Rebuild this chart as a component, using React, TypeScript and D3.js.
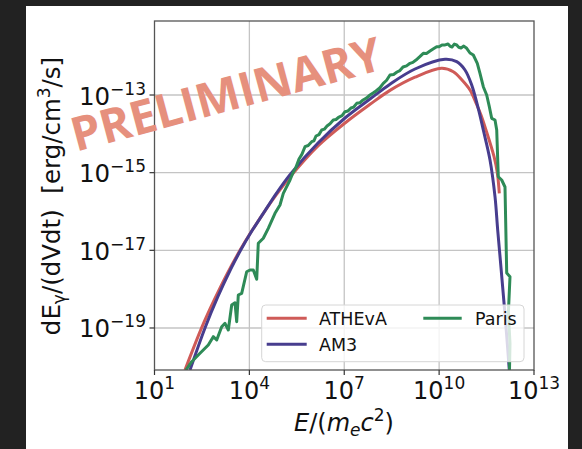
import React from "react";
import * as d3 from "d3";

// ---- data (log10 of E/(m_e c^2) and log10 of dE/(dVdt)) ----
const athevaLogE = [1.964, 2.493, 2.9, 3.3, 3.704, 3.998, 4.431, 4.842, 5.316, 6.17, 7.024, 7.814, 8.446, 9.237, 10.081, 10.448, 10.723, 10.976, 11.166, 11.324, 11.482, 11.737, 11.84, 11.903];
const athevaLogY = [-20.08, -18.99, -18.26, -17.6, -17.0, -16.6, -16.06, -15.58, -15.08, -14.31, -13.72, -13.24, -12.88, -12.54, -12.312, -12.4, -12.614, -12.871, -13.206, -13.515, -13.901, -14.589, -15.001, -15.532];

const am3LogE = [2.123, 2.597, 3.0, 3.4, 3.735, 4.02, 4.44, 4.864, 5.285, 6.17, 7.024, 7.814, 8.446, 9.237, 10.186, 10.556, 10.818, 11.03, 11.239, 11.397, 11.609, 11.767, 11.852, 11.957, 12.083, 12.219];
const am3LogY = [-20.082, -19.0, -18.2, -17.5, -16.98, -16.58, -16.05, -15.52, -15.05, -14.236, -13.592, -13.103, -12.72, -12.33, -12.081, -12.142, -12.356, -12.742, -13.35, -13.901, -14.674, -15.619, -16.477, -17.45, -18.65, -20.082];

const parisLogE = [1.996, 2.176, 2.439, 2.701, 2.859, 2.967, 3.125, 3.229, 3.334, 3.441, 3.545, 3.599, 3.65, 3.757, 3.915, 4.02, 4.124, 4.232, 4.282, 4.44, 4.598, 4.81, 4.968, 5.073, 5.285, 5.379, 5.47, 5.569, 5.66, 5.759, 5.86, 5.971, 6.04, 6.107, 6.2, 6.287, 6.37, 6.455, 6.55, 6.654, 6.74, 6.834, 6.93, 7.024, 7.12, 7.213, 7.3, 7.394, 7.49, 7.593, 7.7, 7.814, 7.91, 8.004, 8.12, 8.235, 8.34, 8.446, 8.56, 8.668, 8.76, 8.858, 8.97, 9.079, 9.17, 9.269, 9.38, 9.5, 9.6, 9.712, 9.82, 9.923, 10.0, 10.091, 10.19, 10.281, 10.34, 10.407, 10.48, 10.556, 10.62, 10.692, 10.78, 10.872, 10.976, 11.081, 11.207, 11.292, 11.397, 11.504, 11.587, 11.662, 11.767, 11.821, 11.871, 11.979, 12.083, 12.137, 12.241, 12.19, 12.241, 12.225];
const parisLogY = [-20.082, -19.868, -19.652, -19.438, -19.224, -19.309, -18.967, -18.88, -19.052, -18.408, -18.349, -18.838, -18.151, -18.107, -17.551, -17.507, -17.507, -17.746, -16.819, -16.69, -16.433, -16.047, -15.833, -15.532, -15.189, -15.001, -14.87, -14.648, -14.53, -14.331, -14.3, -14.203, -14.18, -14.056, -14.02, -13.901, -13.88, -13.798, -13.74, -13.644, -13.63, -13.567, -13.53, -13.43, -13.41, -13.335, -13.31, -13.214, -13.2, -13.129, -13.08, -13.0, -12.95, -12.897, -12.82, -12.699, -12.62, -12.485, -12.47, -12.408, -12.37, -12.279, -12.25, -12.184, -12.16, -12.099, -12.02, -11.926, -11.93, -11.867, -11.81, -11.756, -11.76, -11.712, -11.71, -11.687, -11.74, -11.764, -11.69, -11.712, -11.77, -11.79, -11.74, -11.797, -11.918, -11.97, -12.184, -12.441, -12.786, -13.0, -13.301, -13.6, -13.644, -13.901, -15.104, -15.189, -15.369, -17.584, -17.679, -18.6, -19.4, -20.082];

const xTickExps = [1, 4, 7, 10, 13];
const yTickExps = [-13, -15, -17, -19];
const yTickLabels = ["\u221213", "\u221215", "\u221217", "\u221219"];

const seriesNames = ["ATHEvA", "AM3", "Paris"];
const seriesColors = ["#cf5b58", "#473d8e", "#2e8b57"];

const W = 582;
const H = 449;
const left = 154.5, right = 534, top = 21, bottom = 370;

export default function App() {
  React.useEffect(() => {
    document.body.style.margin = "0";
    document.body.style.background = "#222222";
  }, []);

  const x = d3.scaleLog().domain([10, 1e13]).range([left, right]);
  const y = d3.scaleLog().domain([Math.pow(10, -20.082), Math.pow(10, -11.094)]).range([bottom, top]);

  const mk = (le: number[], ly: number[]) =>
    le.map((e, i) => [Math.pow(10, e), Math.pow(10, ly[i])] as [number, number]);
  const smooth = d3
    .line<[number, number]>()
    .x((d) => x(d[0]))
    .y((d) => y(d[1]))
    .curve(d3.curveCatmullRom.alpha(0.5));
  const jagged = d3
    .line<[number, number]>()
    .x((d) => x(d[0]))
    .y((d) => y(d[1]));

  const series = [
    smooth(mk(athevaLogE, athevaLogY)),
    smooth(mk(am3LogE, am3LogY)),
    jagged(mk(parisLogE, parisLogY)),
  ];

  const font = "'DejaVu Sans', sans-serif";
  const grid = "#c4c4c4";

  return (
    <svg width={W} height={H} style={{ position: "fixed", left: 0, top: 0, display: "block" }} fontFamily={font}>
      <rect x={0} y={0} width={W} height={H} fill="#222222" />
      <rect x={26} y={6} width={542} height={H - 6} fill="#ffffff" />
      <defs>
        <clipPath id="plotclip">
          <rect x={left} y={top} width={right - left} height={bottom - top} />
        </clipPath>
      </defs>
      {/* grid */}
      {xTickExps.slice(1, -1).map((e) => (
        <line key={"gx" + e} x1={x(Math.pow(10, e))} x2={x(Math.pow(10, e))} y1={top} y2={bottom} stroke={grid} strokeWidth={1.3} />
      ))}
      {yTickExps.map((e) => (
        <line key={"gy" + e} x1={left} x2={right} y1={y(Math.pow(10, e))} y2={y(Math.pow(10, e))} stroke={grid} strokeWidth={1.3} />
      ))}
      {/* curves */}
      <g clipPath="url(#plotclip)">
        {series.map((d, i) => (
          <path key={i} d={d || ""} fill="none" stroke={seriesColors[i]} strokeWidth={3} strokeLinejoin="round" />
        ))}
      </g>
      {/* spines */}
      <rect x={left} y={top} width={right - left} height={bottom - top} fill="none" stroke="#555" strokeWidth={1.3} />
      {/* x ticks */}
      {xTickExps.map((e) => {
        const px = x(Math.pow(10, e));
        return (
          <g key={"xt" + e}>
            <line x1={px} x2={px} y1={bottom} y2={bottom + 5} stroke="#333" strokeWidth={1.2} />
            <text x={px} y={398.5} textAnchor="middle" fontSize={24} fill="#111">
              10
              <tspan dy={-10} fontSize={17}>{String(e)}</tspan>
            </text>
          </g>
        );
      })}
      {/* y ticks */}
      {yTickExps.map((e, i) => {
        const py = y(Math.pow(10, e));
        return (
          <g key={"yt" + e}>
            <line x1={left - 5} x2={left} y1={py} y2={py} stroke="#333" strokeWidth={1.2} />
            <text x={146} y={py + 9.5} textAnchor="end" fontSize={24.5} fill="#111">
              10
              <tspan dy={-10} fontSize={17}>{yTickLabels[i]}</tspan>
            </text>
          </g>
        );
      })}
      {/* x label */}
      <text x={344} y={431} textAnchor="middle" fontSize={24} fill="#111">
        <tspan fontStyle="italic">E</tspan>
        <tspan>/(</tspan>
        <tspan fontStyle="italic">m</tspan>
        <tspan fontStyle="italic" fontSize={17} dy={5}>e</tspan>
        <tspan fontStyle="italic" dy={-5}>c</tspan>
        <tspan fontSize={17} dy={-10}>2</tspan>
        <tspan dy={10}>)</tspan>
      </text>
      {/* y label */}
      <text transform={`translate(60,196) rotate(-90)`} textAnchor="middle" fontSize={24.5} fill="#111" style={{ whiteSpace: "pre" }}>
        dE
        <tspan fontSize={17} dy={5}>γ</tspan>
        <tspan dy={-5}>{"/(dVdt)  [erg/cm"}</tspan>
        <tspan fontSize={17} dy={-10}>3</tspan>
        <tspan dy={10}>/s]</tspan>
      </text>
      {/* legend */}
      <g>
        <rect x={261.7} y={305} width={262.3} height={56.7} rx={4} fill="#ffffff" fillOpacity={0.8} stroke="#d6d6d6" strokeWidth={1} />
        <line x1={266.7} x2={306.7} y1={318.3} y2={318.3} stroke={seriesColors[0]} strokeWidth={3} />
        <text x={319} y={325.3} fontSize={17.5} fill="#111">{seriesNames[0]}</text>
        <line x1={266.7} x2={306.7} y1={344.3} y2={344.3} stroke={seriesColors[1]} strokeWidth={3} />
        <text x={319} y={351.3} fontSize={17.5} fill="#111">{seriesNames[1]}</text>
        <line x1={423.3} x2={461.7} y1={318.3} y2={318.3} stroke={seriesColors[2]} strokeWidth={3} />
        <text x={475} y={325.3} fontSize={17.5} fill="#111">{seriesNames[2]}</text>
      </g>
      {/* watermark */}
      <text transform="translate(226,94) rotate(-15)" y={17} textAnchor="middle" fontFamily="'Open Sans', sans-serif" fontWeight={700} fontSize={47} fill="#e6907d">
        PRELIMINARY
      </text>
    </svg>
  );
}
